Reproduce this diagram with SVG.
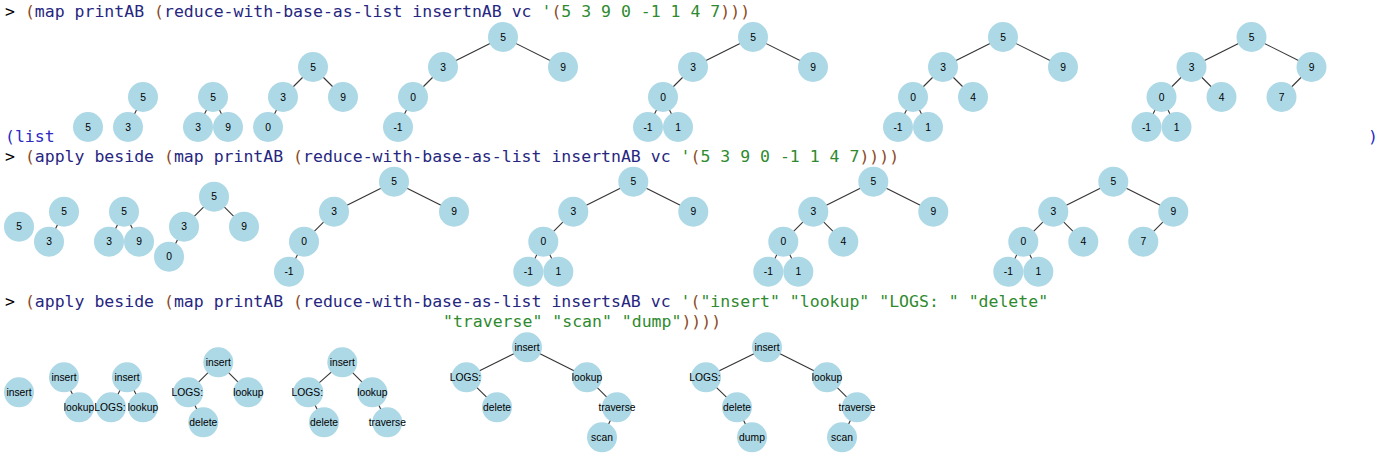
<svg xmlns="http://www.w3.org/2000/svg" width="1386" height="457" viewBox="0 0 1386 457">
<style>
.code{font-family:"DejaVu Sans Mono","Liberation Mono",monospace;font-size:16.5px}
.p{fill:#8c4a24}.s{fill:#262680}.c{fill:#2f8a2f}.k{fill:#000}.o{fill:#2b2bc4}
.n circle{fill:#add8e6}
.n text{font-family:"Liberation Sans",Arial,sans-serif;font-size:10.3px;text-anchor:middle;fill:#000}
#connectors line{stroke:#333;stroke-width:1.1}
</style>
<rect width="1386" height="457" fill="#fff"/>
<g id="code">
<text class="code" x="5" y="17" xml:space="preserve"><tspan class="k">&gt; </tspan><tspan class="p">(</tspan><tspan class="s">map printAB </tspan><tspan class="p">(</tspan><tspan class="s">reduce-with-base-as-list insertnAB vc </tspan><tspan class="c">'</tspan><tspan class="p">(</tspan><tspan class="c">5 3 9 0 -1 1 4 7</tspan><tspan class="p">)))</tspan></text>
<text class="code o" x="5" y="141.5">(list</text>
<text class="code o" x="1368" y="141.5">)</text>
<text class="code" x="5" y="162" xml:space="preserve"><tspan class="k">&gt; </tspan><tspan class="p">(</tspan><tspan class="s">apply beside </tspan><tspan class="p">(</tspan><tspan class="s">map printAB </tspan><tspan class="p">(</tspan><tspan class="s">reduce-with-base-as-list insertnAB vc </tspan><tspan class="c">'</tspan><tspan class="p">(</tspan><tspan class="c">5 3 9 0 -1 1 4 7</tspan><tspan class="p">))))</tspan></text>
<text class="code" x="5" y="306.5" xml:space="preserve"><tspan class="k">&gt; </tspan><tspan class="p">(</tspan><tspan class="s">apply beside </tspan><tspan class="p">(</tspan><tspan class="s">map printAB </tspan><tspan class="p">(</tspan><tspan class="s">reduce-with-base-as-list insertsAB vc </tspan><tspan class="c">'</tspan><tspan class="p">(</tspan><tspan class="c">"insert" "lookup" "LOGS: " "delete"</tspan></text>
<text class="code" x="443" y="326.5" xml:space="preserve"><tspan class="c">"traverse" "scan" "dump"</tspan><tspan class="p">))))</tspan></text>
</g>
<g id="connectors">
<line x1="143" y1="97" x2="128" y2="127"/>
<line x1="213" y1="97" x2="198" y2="127"/><line x1="213" y1="97" x2="228" y2="127"/>
<line x1="313" y1="67" x2="283" y2="97"/><line x1="313" y1="67" x2="343" y2="97"/><line x1="283" y1="97" x2="268" y2="127"/>
<line x1="503" y1="37" x2="443" y2="67"/><line x1="503" y1="37" x2="563" y2="67"/><line x1="443" y1="67" x2="413" y2="97"/><line x1="413" y1="97" x2="398" y2="127"/>
<line x1="753" y1="37" x2="693" y2="67"/><line x1="753" y1="37" x2="813" y2="67"/><line x1="693" y1="67" x2="663" y2="97"/><line x1="663" y1="97" x2="648" y2="127"/><line x1="663" y1="97" x2="678" y2="127"/>
<line x1="1003" y1="37" x2="943" y2="67"/><line x1="1003" y1="37" x2="1063" y2="67"/><line x1="943" y1="67" x2="913" y2="97"/><line x1="943" y1="67" x2="973" y2="97"/><line x1="913" y1="97" x2="898" y2="127"/><line x1="913" y1="97" x2="928" y2="127"/>
<line x1="1251.5" y1="37" x2="1191.5" y2="67"/><line x1="1251.5" y1="37" x2="1311.5" y2="67"/><line x1="1191.5" y1="67" x2="1161.5" y2="97"/><line x1="1191.5" y1="67" x2="1221.5" y2="97"/><line x1="1311.5" y1="67" x2="1281.5" y2="97"/><line x1="1161.5" y1="97" x2="1146.5" y2="127"/><line x1="1161.5" y1="97" x2="1176.5" y2="127"/>

<line x1="64" y1="211.7" x2="49" y2="241.7"/>
<line x1="124" y1="211.7" x2="109" y2="241.7"/><line x1="124" y1="211.7" x2="139" y2="241.7"/>
<line x1="214" y1="196.7" x2="184" y2="226.7"/><line x1="214" y1="196.7" x2="244" y2="226.7"/><line x1="184" y1="226.7" x2="169" y2="256.7"/>
<line x1="394" y1="181.7" x2="334" y2="211.7"/><line x1="394" y1="181.7" x2="454" y2="211.7"/><line x1="334" y1="211.7" x2="304" y2="241.7"/><line x1="304" y1="241.7" x2="289" y2="271.7"/>
<line x1="633.3" y1="181.7" x2="573.3" y2="211.7"/><line x1="633.3" y1="181.7" x2="693.3" y2="211.7"/><line x1="573.3" y1="211.7" x2="543.3" y2="241.7"/><line x1="543.3" y1="241.7" x2="528.3" y2="271.7"/><line x1="543.3" y1="241.7" x2="558.3" y2="271.7"/>
<line x1="873.3" y1="181.7" x2="813.3" y2="211.7"/><line x1="873.3" y1="181.7" x2="933.3" y2="211.7"/><line x1="813.3" y1="211.7" x2="783.3" y2="241.7"/><line x1="813.3" y1="211.7" x2="843.3" y2="241.7"/><line x1="783.3" y1="241.7" x2="768.3" y2="271.7"/><line x1="783.3" y1="241.7" x2="798.3" y2="271.7"/>
<line x1="1113.3" y1="181.7" x2="1053.3" y2="211.7"/><line x1="1113.3" y1="181.7" x2="1173.3" y2="211.7"/><line x1="1053.3" y1="211.7" x2="1023.3" y2="241.7"/><line x1="1053.3" y1="211.7" x2="1083.3" y2="241.7"/><line x1="1173.3" y1="211.7" x2="1143.3" y2="241.7"/><line x1="1023.3" y1="241.7" x2="1008.3" y2="271.7"/><line x1="1023.3" y1="241.7" x2="1038.3" y2="271.7"/>

<line x1="64" y1="377.3" x2="79" y2="407.3"/>
<line x1="127" y1="377.3" x2="111" y2="407.3"/><line x1="127" y1="377.3" x2="143" y2="407.3"/>
<line x1="218.3" y1="362.3" x2="188.3" y2="392.3"/><line x1="218.3" y1="362.3" x2="248.3" y2="392.3"/><line x1="188.3" y1="392.3" x2="203.3" y2="422.3"/>
<line x1="342.3" y1="362.3" x2="308.3" y2="392.3"/><line x1="342.3" y1="362.3" x2="372.3" y2="392.3"/><line x1="308.3" y1="392.3" x2="324" y2="422.3"/><line x1="372.3" y1="392.3" x2="387.3" y2="422.3"/>
<line x1="527" y1="347.3" x2="466.5" y2="377.3"/><line x1="527" y1="347.3" x2="587" y2="377.3"/><line x1="466.5" y1="377.3" x2="497" y2="407.3"/><line x1="587" y1="377.3" x2="617" y2="407.3"/><line x1="617" y1="407.3" x2="602" y2="437.3"/>
<line x1="767" y1="347.3" x2="706" y2="377.3"/><line x1="767" y1="347.3" x2="827" y2="377.3"/><line x1="706" y1="377.3" x2="737" y2="407.3"/><line x1="737" y1="407.3" x2="752" y2="437.3"/><line x1="827" y1="377.3" x2="857" y2="407.3"/><line x1="857" y1="407.3" x2="842" y2="437.3"/>
</g>
<g id="row1">
<g id="a1n1" class="n"><circle cx="88" cy="127" r="15"/><text x="88" y="130.6">5</text></g>
<g id="a2n1" class="n"><circle cx="143" cy="97" r="15"/><text x="143" y="100.6">5</text></g>
<g id="a2n2" class="n"><circle cx="128" cy="127" r="15"/><text x="128" y="130.6">3</text></g>
<g id="a3n1" class="n"><circle cx="213" cy="97" r="15"/><text x="213" y="100.6">5</text></g>
<g id="a3n2" class="n"><circle cx="198" cy="127" r="15"/><text x="198" y="130.6">3</text></g>
<g id="a3n3" class="n"><circle cx="228" cy="127" r="15"/><text x="228" y="130.6">9</text></g>
<g id="a4n1" class="n"><circle cx="313" cy="67" r="15"/><text x="313" y="70.6">5</text></g>
<g id="a4n2" class="n"><circle cx="283" cy="97" r="15"/><text x="283" y="100.6">3</text></g>
<g id="a4n3" class="n"><circle cx="343" cy="97" r="15"/><text x="343" y="100.6">9</text></g>
<g id="a4n4" class="n"><circle cx="268" cy="127" r="15"/><text x="268" y="130.6">0</text></g>
<g id="a5n1" class="n"><circle cx="503" cy="37" r="15"/><text x="503" y="40.6">5</text></g>
<g id="a5n2" class="n"><circle cx="443" cy="67" r="15"/><text x="443" y="70.6">3</text></g>
<g id="a5n3" class="n"><circle cx="563" cy="67" r="15"/><text x="563" y="70.6">9</text></g>
<g id="a5n4" class="n"><circle cx="413" cy="97" r="15"/><text x="413" y="100.6">0</text></g>
<g id="a5n5" class="n"><circle cx="398" cy="127" r="15"/><text x="398" y="130.6">-1</text></g>
<g id="a6n1" class="n"><circle cx="753" cy="37" r="15"/><text x="753" y="40.6">5</text></g>
<g id="a6n2" class="n"><circle cx="693" cy="67" r="15"/><text x="693" y="70.6">3</text></g>
<g id="a6n3" class="n"><circle cx="813" cy="67" r="15"/><text x="813" y="70.6">9</text></g>
<g id="a6n4" class="n"><circle cx="663" cy="97" r="15"/><text x="663" y="100.6">0</text></g>
<g id="a6n5" class="n"><circle cx="648" cy="127" r="15"/><text x="648" y="130.6">-1</text></g>
<g id="a6n6" class="n"><circle cx="678" cy="127" r="15"/><text x="678" y="130.6">1</text></g>
<g id="a7n1" class="n"><circle cx="1003" cy="37" r="15"/><text x="1003" y="40.6">5</text></g>
<g id="a7n2" class="n"><circle cx="943" cy="67" r="15"/><text x="943" y="70.6">3</text></g>
<g id="a7n3" class="n"><circle cx="1063" cy="67" r="15"/><text x="1063" y="70.6">9</text></g>
<g id="a7n4" class="n"><circle cx="913" cy="97" r="15"/><text x="913" y="100.6">0</text></g>
<g id="a7n5" class="n"><circle cx="973" cy="97" r="15"/><text x="973" y="100.6">4</text></g>
<g id="a7n6" class="n"><circle cx="898" cy="127" r="15"/><text x="898" y="130.6">-1</text></g>
<g id="a7n7" class="n"><circle cx="928" cy="127" r="15"/><text x="928" y="130.6">1</text></g>
<g id="a8n1" class="n"><circle cx="1251.5" cy="37" r="15"/><text x="1251.5" y="40.6">5</text></g>
<g id="a8n2" class="n"><circle cx="1191.5" cy="67" r="15"/><text x="1191.5" y="70.6">3</text></g>
<g id="a8n3" class="n"><circle cx="1311.5" cy="67" r="15"/><text x="1311.5" y="70.6">9</text></g>
<g id="a8n4" class="n"><circle cx="1161.5" cy="97" r="15"/><text x="1161.5" y="100.6">0</text></g>
<g id="a8n5" class="n"><circle cx="1221.5" cy="97" r="15"/><text x="1221.5" y="100.6">4</text></g>
<g id="a8n6" class="n"><circle cx="1281.5" cy="97" r="15"/><text x="1281.5" y="100.6">7</text></g>
<g id="a8n7" class="n"><circle cx="1146.5" cy="127" r="15"/><text x="1146.5" y="130.6">-1</text></g>
<g id="a8n8" class="n"><circle cx="1176.5" cy="127" r="15"/><text x="1176.5" y="130.6">1</text></g>
</g>
<g id="row2">
<g id="b1n1" class="n"><circle cx="19" cy="226.7" r="15"/><text x="19" y="230.3">5</text></g>
<g id="b2n1" class="n"><circle cx="64" cy="211.7" r="15"/><text x="64" y="215.3">5</text></g>
<g id="b2n2" class="n"><circle cx="49" cy="241.7" r="15"/><text x="49" y="245.3">3</text></g>
<g id="b3n1" class="n"><circle cx="124" cy="211.7" r="15"/><text x="124" y="215.3">5</text></g>
<g id="b3n2" class="n"><circle cx="109" cy="241.7" r="15"/><text x="109" y="245.3">3</text></g>
<g id="b3n3" class="n"><circle cx="139" cy="241.7" r="15"/><text x="139" y="245.3">9</text></g>
<g id="b4n1" class="n"><circle cx="214" cy="196.7" r="15"/><text x="214" y="200.3">5</text></g>
<g id="b4n2" class="n"><circle cx="184" cy="226.7" r="15"/><text x="184" y="230.3">3</text></g>
<g id="b4n3" class="n"><circle cx="244" cy="226.7" r="15"/><text x="244" y="230.3">9</text></g>
<g id="b4n4" class="n"><circle cx="169" cy="256.7" r="15"/><text x="169" y="260.3">0</text></g>
<g id="b5n1" class="n"><circle cx="394" cy="181.7" r="15"/><text x="394" y="185.3">5</text></g>
<g id="b5n2" class="n"><circle cx="334" cy="211.7" r="15"/><text x="334" y="215.3">3</text></g>
<g id="b5n3" class="n"><circle cx="454" cy="211.7" r="15"/><text x="454" y="215.3">9</text></g>
<g id="b5n4" class="n"><circle cx="304" cy="241.7" r="15"/><text x="304" y="245.3">0</text></g>
<g id="b5n5" class="n"><circle cx="289" cy="271.7" r="15"/><text x="289" y="275.3">-1</text></g>
<g id="b6n1" class="n"><circle cx="633.3" cy="181.7" r="15"/><text x="633.3" y="185.3">5</text></g>
<g id="b6n2" class="n"><circle cx="573.3" cy="211.7" r="15"/><text x="573.3" y="215.3">3</text></g>
<g id="b6n3" class="n"><circle cx="693.3" cy="211.7" r="15"/><text x="693.3" y="215.3">9</text></g>
<g id="b6n4" class="n"><circle cx="543.3" cy="241.7" r="15"/><text x="543.3" y="245.3">0</text></g>
<g id="b6n5" class="n"><circle cx="528.3" cy="271.7" r="15"/><text x="528.3" y="275.3">-1</text></g>
<g id="b6n6" class="n"><circle cx="558.3" cy="271.7" r="15"/><text x="558.3" y="275.3">1</text></g>
<g id="b7n1" class="n"><circle cx="873.3" cy="181.7" r="15"/><text x="873.3" y="185.3">5</text></g>
<g id="b7n2" class="n"><circle cx="813.3" cy="211.7" r="15"/><text x="813.3" y="215.3">3</text></g>
<g id="b7n3" class="n"><circle cx="933.3" cy="211.7" r="15"/><text x="933.3" y="215.3">9</text></g>
<g id="b7n4" class="n"><circle cx="783.3" cy="241.7" r="15"/><text x="783.3" y="245.3">0</text></g>
<g id="b7n5" class="n"><circle cx="843.3" cy="241.7" r="15"/><text x="843.3" y="245.3">4</text></g>
<g id="b7n6" class="n"><circle cx="768.3" cy="271.7" r="15"/><text x="768.3" y="275.3">-1</text></g>
<g id="b7n7" class="n"><circle cx="798.3" cy="271.7" r="15"/><text x="798.3" y="275.3">1</text></g>
<g id="b8n1" class="n"><circle cx="1113.3" cy="181.7" r="15"/><text x="1113.3" y="185.3">5</text></g>
<g id="b8n2" class="n"><circle cx="1053.3" cy="211.7" r="15"/><text x="1053.3" y="215.3">3</text></g>
<g id="b8n3" class="n"><circle cx="1173.3" cy="211.7" r="15"/><text x="1173.3" y="215.3">9</text></g>
<g id="b8n4" class="n"><circle cx="1023.3" cy="241.7" r="15"/><text x="1023.3" y="245.3">0</text></g>
<g id="b8n5" class="n"><circle cx="1083.3" cy="241.7" r="15"/><text x="1083.3" y="245.3">4</text></g>
<g id="b8n6" class="n"><circle cx="1143.3" cy="241.7" r="15"/><text x="1143.3" y="245.3">7</text></g>
<g id="b8n7" class="n"><circle cx="1008.3" cy="271.7" r="15"/><text x="1008.3" y="275.3">-1</text></g>
<g id="b8n8" class="n"><circle cx="1038.3" cy="271.7" r="15"/><text x="1038.3" y="275.3">1</text></g>
</g>
<g id="row3">
<g id="c1n1" class="n"><circle cx="19" cy="392.3" r="15"/><text x="19" y="395.9">insert</text></g>
<g id="c2n1" class="n"><circle cx="64" cy="377.3" r="15"/><text x="64" y="380.9">insert</text></g>
<g id="c2n2" class="n"><circle cx="79" cy="407.3" r="15"/><text x="79" y="410.9">lookup</text></g>
<g id="c3n1" class="n"><circle cx="127" cy="377.3" r="15"/><text x="127" y="380.9">insert</text></g>
<g id="c3n2" class="n"><circle cx="111" cy="407.3" r="15"/><text x="110" y="410.9">LOGS:</text></g>
<g id="c3n3" class="n"><circle cx="143" cy="407.3" r="15"/><text x="143" y="410.9">lookup</text></g>
<g id="c4n1" class="n"><circle cx="218.3" cy="362.3" r="15"/><text x="218.3" y="365.9">insert</text></g>
<g id="c4n2" class="n"><circle cx="188.3" cy="392.3" r="15"/><text x="187.3" y="395.9">LOGS:</text></g>
<g id="c4n3" class="n"><circle cx="248.3" cy="392.3" r="15"/><text x="248.3" y="395.9">lookup</text></g>
<g id="c4n4" class="n"><circle cx="203.3" cy="422.3" r="15"/><text x="203.3" y="425.9">delete</text></g>
<g id="c5n1" class="n"><circle cx="342.3" cy="362.3" r="15"/><text x="342.3" y="365.9">insert</text></g>
<g id="c5n2" class="n"><circle cx="308.3" cy="392.3" r="15"/><text x="307.3" y="395.9">LOGS:</text></g>
<g id="c5n3" class="n"><circle cx="372.3" cy="392.3" r="15"/><text x="372.3" y="395.9">lookup</text></g>
<g id="c5n4" class="n"><circle cx="324" cy="422.3" r="15"/><text x="324" y="425.9">delete</text></g>
<g id="c5n5" class="n"><circle cx="387.3" cy="422.3" r="15"/><text x="387.3" y="425.9">traverse</text></g>
<g id="c6n1" class="n"><circle cx="527" cy="347.3" r="15"/><text x="527" y="350.9">insert</text></g>
<g id="c6n2" class="n"><circle cx="466.5" cy="377.3" r="15"/><text x="465.5" y="380.9">LOGS:</text></g>
<g id="c6n3" class="n"><circle cx="587" cy="377.3" r="15"/><text x="587" y="380.9">lookup</text></g>
<g id="c6n4" class="n"><circle cx="497" cy="407.3" r="15"/><text x="497" y="410.9">delete</text></g>
<g id="c6n5" class="n"><circle cx="617" cy="407.3" r="15"/><text x="617" y="410.9">traverse</text></g>
<g id="c6n6" class="n"><circle cx="602" cy="437.3" r="15"/><text x="602" y="440.9">scan</text></g>
<g id="c7n1" class="n"><circle cx="767" cy="347.3" r="15"/><text x="767" y="350.9">insert</text></g>
<g id="c7n2" class="n"><circle cx="706" cy="377.3" r="15"/><text x="705" y="380.9">LOGS:</text></g>
<g id="c7n3" class="n"><circle cx="827" cy="377.3" r="15"/><text x="827" y="380.9">lookup</text></g>
<g id="c7n4" class="n"><circle cx="737" cy="407.3" r="15"/><text x="737" y="410.9">delete</text></g>
<g id="c7n5" class="n"><circle cx="752" cy="437.3" r="15"/><text x="752" y="440.9">dump</text></g>
<g id="c7n6" class="n"><circle cx="857" cy="407.3" r="15"/><text x="857" y="410.9">traverse</text></g>
<g id="c7n7" class="n"><circle cx="842" cy="437.3" r="15"/><text x="842" y="440.9">scan</text></g>
</g>
</svg>
